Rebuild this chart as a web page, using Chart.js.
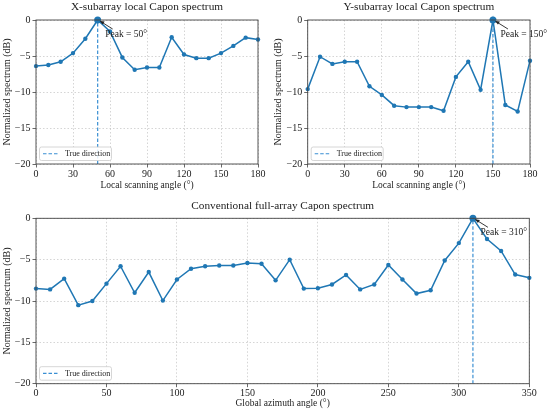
<!DOCTYPE html>
<html><head><meta charset="utf-8">
<script src="https://cdn.jsdelivr.net/npm/chart.js@4.4.1/dist/chart.umd.min.js"></script>
<style>
body{margin:0;background:#fff;width:550px;height:413px;position:relative;overflow:hidden}
canvas{position:absolute}
</style></head><body>
<canvas id="cX" width="275" height="200" style="left:0;top:0;width:275px;height:200px"></canvas>
<canvas id="cY" width="280" height="200" style="left:270px;top:0;width:280px;height:200px"></canvas>
<canvas id="cG" width="550" height="216" style="left:0;top:197px;width:550px;height:216px"></canvas>
<script>
// data
const localAngles=[0,10,20,30,40,50,60,70,80,90,100,110,120,130,140,150,160,170,180]
const xSpectrum=[-6.4,-6.25,-5.8,-4.6,-2.6,0,-1.6,-5.2,-6.9,-6.6,-6.6,-2.4,-4.8,-5.3,-5.3,-4.6,-3.6,-2.45,-2.7]
const ySpectrum=[-9.6,-5.1,-6.1,-5.8,-5.8,-9.2,-10.4,-11.9,-12.1,-12.1,-12.1,-12.6,-7.9,-5.8,-9.7,0,-11.8,-12.7,-5.65]
const globalAngles=[0,10,20,30,40,50,60,70,80,90,100,110,120,130,140,150,160,170,180,190,200,210,220,230,240,250,260,270,280,290,300,310,320,330,340,350]
const globalSpectrum=[-8.5,-8.6,-7.3,-10.5,-10.0,-7.9,-5.8,-9.0,-6.5,-9.95,-7.4,-6.1,-5.8,-5.7,-5.7,-5.4,-5.5,-7.5,-5.0,-8.5,-8.45,-8.0,-6.85,-8.6,-8.0,-5.65,-7.4,-9.1,-8.7,-5.1,-3.0,0,-2.5,-3.95,-6.8,-7.2]
const xPeak=50, yPeak=150, gPeak=310
const yMin=-20, yMax=0

const FONT='"Liberation Serif","DejaVu Serif",serif'
const TXT='#222'
const BLUE='#1f77b4'
const VBLUE='#3a8fd3'

const framePlugin={
  id:'frameAndNotes',
  afterDraw(chart){
    const ctx=chart.ctx, a=chart.chartArea, o=chart.options.plugins.frameAndNotes
    const xs=chart.scales.x, ys=chart.scales.y
    ctx.save()
    // title, centred on the plot area
    ctx.fillStyle=TXT; ctx.font='11.3px '+FONT; ctx.textAlign='center'; ctx.textBaseline='middle'
    ctx.fillText(o.title,(a.left+a.right)/2,a.top-12.6)
    // frame
    ctx.strokeStyle='#444'; ctx.lineWidth=0.9
    ctx.strokeRect(a.left,a.top,a.right-a.left,a.bottom-a.top)
    // peak annotation
    const px=xs.getPixelForValue(o.peak), py=ys.getPixelForValue(0)
    ctx.strokeStyle='#222'; ctx.fillStyle='#222'; ctx.lineWidth=0.9
    ctx.beginPath(); ctx.moveTo(px+15,py+9); ctx.lineTo(px+3,py+1.5); ctx.stroke()
    ctx.beginPath(); ctx.moveTo(px+2,py+1); ctx.lineTo(px+7,py+1.6); ctx.lineTo(px+5,py+4.6); ctx.closePath(); ctx.fill()
    ctx.font='9.5px '+FONT; ctx.textAlign='left'
    ctx.fillText('Peak = '+o.peak+'°',px+7.5,py+14)
    // legend box
    const bx=a.left+3.5, bh=13.5, by=a.bottom-3.5-bh, bw=72
    ctx.fillStyle='rgba(255,255,255,0.85)'; ctx.strokeStyle='#ccc'; ctx.lineWidth=0.8
    ctx.beginPath()
    if(ctx.roundRect) ctx.roundRect(bx,by,bw,bh,2); else ctx.rect(bx,by,bw,bh)
    ctx.fill(); ctx.stroke()
    ctx.strokeStyle=VBLUE; ctx.lineWidth=1.2; ctx.setLineDash([3.5,2])
    ctx.beginPath(); ctx.moveTo(bx+3.5,by+bh/2); ctx.lineTo(bx+20,by+bh/2); ctx.stroke()
    ctx.setLineDash([])
    ctx.fillStyle=TXT; ctx.font='8px '+FONT
    ctx.fillText('True direction',bx+25.5,by+bh/2+0.5)
    ctx.restore()
  }
}

function makeChart(id,angles,values,peak,cfg){
  const pts=angles.map((a,i)=>({x:a,y:values[i]}))
  return new Chart(document.getElementById(id),{
    type:'line',
    data:{datasets:[
      {data:pts,borderColor:BLUE,backgroundColor:BLUE,borderWidth:1.5,clip:false,
       pointRadius:c=>angles[c.dataIndex]===peak?3.5:2.2,pointBorderWidth:0,order:0},
      {data:[{x:peak,y:yMin},{x:peak,y:yMax}],borderColor:VBLUE,borderWidth:1.2,
       borderDash:[3.5,2],pointRadius:0,order:1}
    ]},
    options:{
      responsive:false,animation:false,
      layout:{padding:{left:0,right:cfg.padRight,top:cfg.padTop,bottom:0}},
      plugins:{
        legend:{display:false},tooltip:{enabled:false},title:{display:false},
        frameAndNotes:{peak:peak,title:cfg.title}
      },
      scales:{
        x:{type:'linear',min:0,max:cfg.xMax,
           afterFit:s=>{s.height=cfg.xHeight},
           ticks:{stepSize:cfg.xStep,autoSkip:false,maxRotation:0,color:TXT,padding:0.5,
                  font:{family:FONT,size:10}},
           grid:{color:'rgba(170,170,170,0.7)',lineWidth:0.7,tickLength:3.5,tickColor:'#444',tickWidth:0.8},
           border:{display:false,dash:[1.5,2]},
           title:{display:true,text:cfg.xTitle,color:TXT,font:{family:FONT,size:9.5},
                  padding:{top:0,bottom:cfg.xTitlePad}}},
        y:{min:yMin,max:yMax,
           afterFit:s=>{s.width=cfg.yWidth},
           ticks:{stepSize:5,color:TXT,padding:2,font:{family:FONT,size:10},
                  callback:v=>v<0?'\u2212'+Math.abs(v):String(v)},
           grid:{color:'rgba(170,170,170,0.7)',lineWidth:0.7,tickLength:3.5,tickColor:'#444',tickWidth:0.8},
           border:{display:false,dash:[1.5,2]},
           title:{display:true,text:'Normalized spectrum (dB)',color:TXT,font:{family:FONT,size:10},
                  padding:{top:cfg.yTitlePad,bottom:0}}}
      }
    },
    plugins:[framePlugin]
  })
}

makeChart('cX',localAngles,xSpectrum,xPeak,{title:'X-subarray local Capon spectrum',xTitle:'Local scanning angle (°)',
  xMax:180,xStep:30,padRight:17,padTop:20,yWidth:36,xHeight:36,xTitlePad:9,yTitlePad:1})
makeChart('cY',localAngles,ySpectrum,yPeak,{title:'Y-subarray local Capon spectrum',xTitle:'Local scanning angle (°)',
  xMax:180,xStep:30,padRight:20,padTop:20,yWidth:37.7,xHeight:36,xTitlePad:9,yTitlePad:2.5})
makeChart('cG',globalAngles,globalSpectrum,gPeak,{title:'Conventional full-array Capon spectrum',xTitle:'Global azimuth angle (°)',
  xMax:350,xStep:50,padRight:20.7,padTop:21.3,yWidth:36,xHeight:29.3,xTitlePad:3.5,yTitlePad:1})
</script>
</body></html>
